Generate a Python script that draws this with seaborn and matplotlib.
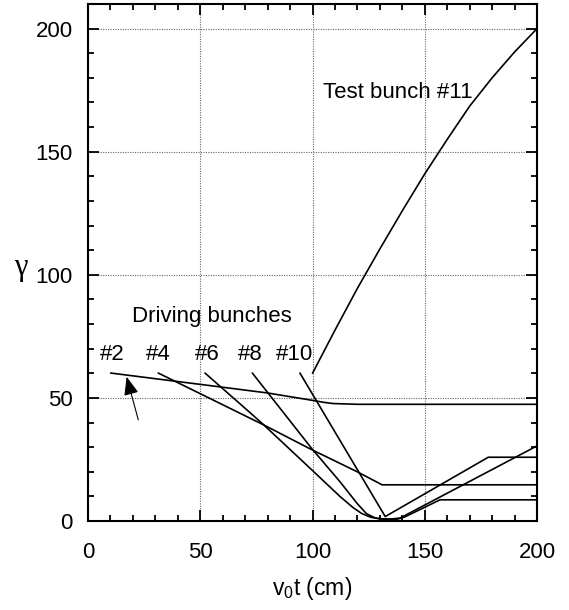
import matplotlib
matplotlib.use("Agg")
import matplotlib.pyplot as plt
import seaborn as sns
import pandas as pd
from matplotlib.ticker import MultipleLocator

# ---- data ----
b2_x = [10.1, 30, 54.3, 80, 100, 105, 109.3, 120, 200]
b2_y = [60.1, 57.8, 55.0, 52.0, 49.0, 48.2, 47.7, 47.4, 47.4]

b4_x = [31.3, 78.1, 99.6, 119.7, 131.0, 200]
b4_y = [60.1, 39.1, 29.0, 20.1, 14.7, 14.7]

b6_x = [52.1, 72.2, 78.1, 100, 112.2, 118, 122, 126, 130, 135, 139, 200]
b6_y = [60.1, 44.0, 39.2, 20.5, 10.0, 5.5, 3.0, 1.5, 0.9, 0.8, 1.2, 30.5]

b8_x = [73.2, 99.6, 112.2, 120, 124, 128, 133, 138, 141, 156.8, 200]
b8_y = [60.1, 29.5, 16.0, 7.0, 3.0, 1.2, 0.6, 0.8, 1.6, 8.6, 8.6]

b10_x = [94.4, 132.4, 178.3, 200]
b10_y = [60.1, 1.8, 25.9, 25.9]

test_x = [100, 110, 120, 130, 140, 150, 160, 170, 180, 190, 200]
test_y = [60.0, 77.5, 94.5, 110.5, 126.0, 141.0, 155.0, 168.5, 180.0, 190.5, 200.0]

bunch_names = ["#2", "#4", "#6", "#8", "#10"]
bunch_label_x = [10.8, 31.3, 52.9, 72.2, 92.2]
bunch_label_y = 67.6

x_ticks = [0, 50, 100, 150, 200]
y_ticks = [0, 50, 100, 150, 200]

# ---- build long table ----
series = {
    "#2": (b2_x, b2_y), "#4": (b4_x, b4_y), "#6": (b6_x, b6_y),
    "#8": (b8_x, b8_y), "#10": (b10_x, b10_y), "#11": (test_x, test_y),
}
rows = []
for name, (xs, ys) in series.items():
    for i, (xv, yv) in enumerate(zip(xs, ys)):
        rows.append({"bunch": name, "order": i, "x": xv, "y": yv})
df = pd.DataFrame(rows)

sns.set_theme(style="ticks")
plt.rcParams["font.family"] = ["Liberation Sans", "DejaVu Sans"]
plt.rcParams["mathtext.default"] = "regular"
for k in ["text.color", "axes.labelcolor", "xtick.color", "ytick.color",
          "xtick.labelcolor", "ytick.labelcolor"]:
    plt.rcParams[k] = "black"

fig = plt.figure(figsize=(5.69, 6.10), dpi=100)
ax = fig.add_axes([88 / 569, 89 / 610, 449 / 569, 517 / 610])

sns.lineplot(data=df, x="x", y="y", units="bunch", estimator=None, sort=False,
             color="black", linewidth=1.2, ax=ax, legend=False)

ax.set_xlim(0, 200)
ax.set_ylim(0, 210)
ax.set_xticks(x_ticks)
ax.set_yticks(y_ticks)
ax.xaxis.set_minor_locator(MultipleLocator(10))
ax.yaxis.set_minor_locator(MultipleLocator(10))
ax.grid(True, which="major", linestyle=(0, (1, 1.2)), color="#666666", linewidth=0.8)
ax.set_axisbelow(True)

for sp in ax.spines.values():
    sp.set_visible(True)
    sp.set_linewidth(1.5)
    sp.set_color("black")

ax.tick_params(which="both", direction="in", top=True, right=True, color="black", width=1.3)
ax.tick_params(which="major", length=8, labelsize=16, pad=11)
ax.tick_params(which="minor", length=4)
ax.tick_params(axis="x", which="major", pad=15)

ax.set_xlabel(r"$v_0t$ (cm)", fontsize=16.5)
ax.xaxis.set_label_coords(0.5, -0.105)
ax.set_ylabel("γ", rotation=0, fontsize=22, family=["Liberation Serif", "DejaVu Serif"], va="center")
ax.yaxis.set_label_coords(-0.15, 0.49)

for name, lx in zip(bunch_names, bunch_label_x):
    ax.text(lx, bunch_label_y, name, ha="center", va="center", fontsize=16)
ax.text(55.1, 83.2, "Driving bunches", ha="center", va="center", fontsize=16)
ax.text(138.2, 174.2, "Test bunch #11", ha="center", va="center", fontsize=16)

ax.annotate("", xy=(17.2, 58.6), xytext=(22.4, 41.1),
            arrowprops=dict(arrowstyle="-|>,head_length=0.75,head_width=0.3",
                            mutation_scale=15, color="black", lw=0.8,
                            shrinkA=0, shrinkB=0))

fig.savefig("out.png", dpi=100)
